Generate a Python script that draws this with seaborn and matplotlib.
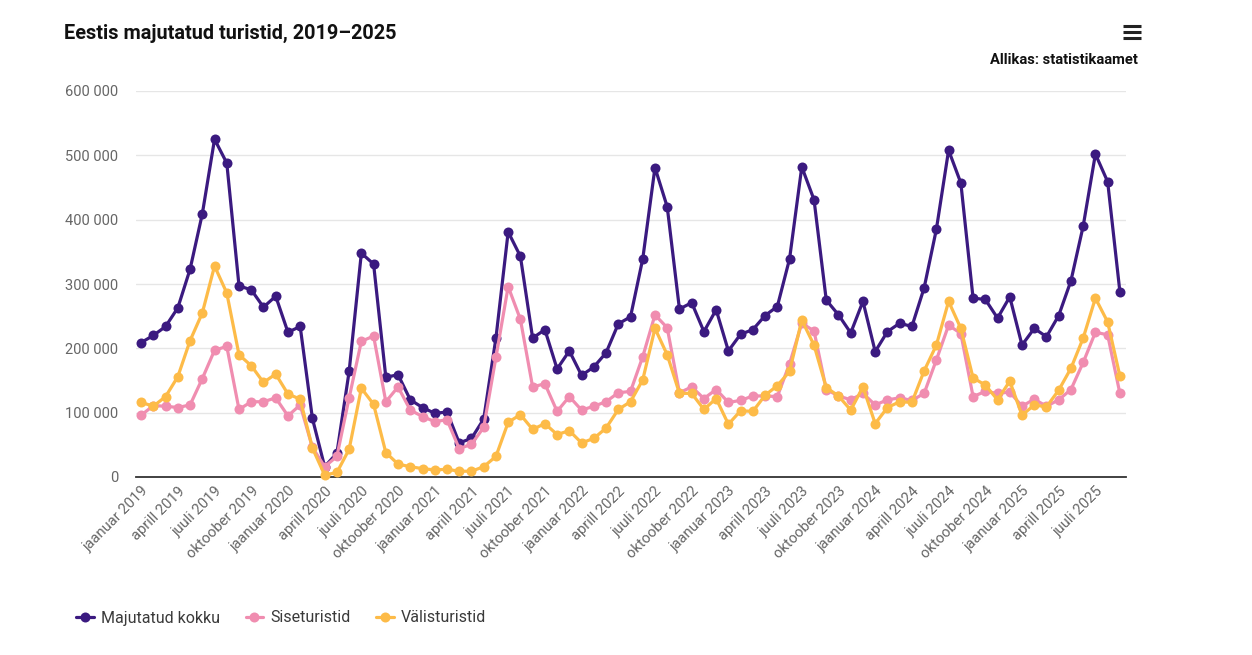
import matplotlib
matplotlib.use("Agg")
import matplotlib.pyplot as plt
from matplotlib.lines import Line2D
from matplotlib.ticker import FuncFormatter, FixedLocator
import seaborn as sns
import pandas as pd

months = ["jaanuar", "veebruar", "märts", "aprill", "mai", "juuni", "juuli",
          "august", "september", "oktoober", "november", "detsember"]
years = [2019, 2020, 2021, 2022, 2023, 2024, 2025]
n_months = 81  # jaanuar 2019 .. september 2025
periods = [f"{months[i % 12]} {years[i // 12]}" for i in range(n_months)]

kokku = [
    209000, 220000, 234000, 263000, 323000, 409000, 525000, 488000, 297000, 291000, 264000, 281000,
    225000, 234000, 91000, 16000, 37000, 164000, 348000, 331000, 155000, 159000, 120000, 108000,
    99000, 101000, 53000, 60000, 90000, 216000, 381000, 343000, 216000, 229000, 168000, 196000,
    158000, 171000, 193000, 238000, 249000, 339000, 481000, 420000, 261000, 271000, 226000, 260000,
    196000, 222000, 229000, 251000, 265000, 339000, 482000, 431000, 275000, 252000, 224000, 273000,
    195000, 226000, 239000, 234000, 294000, 385000, 508000, 457000, 278000, 276000, 247000, 280000,
    205000, 231000, 218000, 251000, 305000, 390000, 502000, 459000, 288000,
]
siseturistid = [
    96000, 111000, 110000, 108000, 112000, 153000, 197000, 203000, 105000, 117000, 117000, 123000,
    95000, 112000, 46000, 16000, 32000, 123000, 211000, 219000, 117000, 140000, 104000, 94000,
    86000, 89000, 44000, 51000, 77000, 186000, 296000, 245000, 140000, 145000, 102000, 125000,
    104000, 110000, 117000, 131000, 133000, 187000, 252000, 232000, 131000, 140000, 122000, 136000,
    116000, 119000, 126000, 126000, 125000, 176000, 239000, 227000, 136000, 126000, 120000, 130000,
    112000, 120000, 123000, 119000, 130000, 182000, 236000, 223000, 125000, 133000, 130000, 132000,
    110000, 121000, 110000, 120000, 136000, 178000, 225000, 221000, 130000,
]
valisturistid = [
    116000, 110000, 125000, 156000, 212000, 255000, 328000, 286000, 190000, 173000, 147000, 160000,
    129000, 121000, 45000, 3000, 7000, 43000, 138000, 113000, 38000, 20000, 16000, 13000,
    11000, 12000, 9000, 9000, 16000, 32000, 85000, 97000, 74000, 83000, 66000, 72000,
    53000, 60000, 76000, 105000, 117000, 151000, 231000, 190000, 130000, 130000, 105000, 122000,
    82000, 103000, 102000, 127000, 142000, 164000, 244000, 205000, 139000, 126000, 104000, 140000,
    83000, 108000, 117000, 116000, 165000, 205000, 273000, 231000, 154000, 143000, 120000, 149000,
    96000, 112000, 109000, 135000, 169000, 216000, 278000, 241000, 157000,
]
series_names = ["Majutatud kokku", "Siseturistid", "Välisturistid"]
colors = ["#3b1a80", "#f08db0", "#fdbb48"]
yticks = [0, 100000, 200000, 300000, 400000, 500000, 600000]

rows = []
for name, vals in zip(series_names, [kokku, siseturistid, valisturistid]):
    for i, v in enumerate(vals):
        rows.append({"idx": i, "period": periods[i], "value": v, "series": name})
df = pd.DataFrame(rows)

sns.set_theme(style="white")
plt.rcParams["font.family"] = ["Roboto", "DejaVu Sans"]

W, H = 1252, 655
fig = plt.figure(figsize=(W / 100, H / 100), dpi=100)
ax = fig.add_axes([136 / W, 1 - 477 / H, (1126 - 136) / W, (477 - 91) / H])

for name, col in zip(series_names, colors):
    sub = df[df["series"] == name]
    sns.lineplot(data=sub, x="idx", y="value", ax=ax, color=col, marker="o",
                 markersize=7.2, markeredgewidth=0, linewidth=2.3, label=name,
                 legend=False, clip_on=False, zorder=3)

ax.set_xlim(-0.42, 80.5)
ax.set_ylim(0, 600000)
ax.yaxis.set_major_locator(FixedLocator(yticks))
ax.yaxis.set_major_formatter(FuncFormatter(lambda v, p: f"{int(v):,}".replace(",", " ")))
ax.grid(axis="y", color="#e6e6e6", linewidth=1)
ax.grid(axis="x", visible=False)
for s in ["left", "right", "top"]:
    ax.spines[s].set_visible(False)
ax.spines["bottom"].set_color("#333333")
ax.spines["bottom"].set_linewidth(1.3)
ax.set_axisbelow(True)

xt = list(range(0, n_months, 3))
ax.set_xticks(xt)
ax.set_xticklabels([periods[i] for i in xt], rotation=45, ha="right",
                   rotation_mode="anchor", color="#666666", fontsize=10.6)
ax.tick_params(axis="x", length=0, pad=5)
ax.tick_params(axis="y", length=0, pad=13, labelcolor="#666666", labelsize=10.5)
ax.set_xlabel("")
ax.set_ylabel("")

fig.text(64 / W, 1 - 33 / H, "Eestis majutatud turistid, 2019–2025", fontsize=14.3,
         fontweight="bold", color="#111111", ha="left", va="center")
fig.text(1138 / W, 1 - 60 / H, "Allikas: statistikaamet", fontsize=10.6,
         fontweight="bold", color="#111111", ha="right", va="center")

# menu icon
for yy in [25.5, 31.5, 37.5]:
    fig.add_artist(Line2D([1123 / W, 1141 / W], [1 - yy / H, 1 - yy / H],
                          transform=fig.transFigure, color="#222222", linewidth=2.2,
                          solid_capstyle="butt"))

handles = [Line2D([0], [0], color=c, linewidth=2.3, marker="o", markersize=7.2,
                  markeredgewidth=0) for c in colors]
leg = fig.legend(handles, series_names, loc="center left",
                 bbox_to_anchor=(62 / W, 1 - 618 / H), ncol=3, frameon=False,
                 fontsize=11.5, handlelength=1.1, handletextpad=0.45,
                 columnspacing=1.6, labelcolor="#3a3a3a")

fig.savefig("out.png", dpi=100)
